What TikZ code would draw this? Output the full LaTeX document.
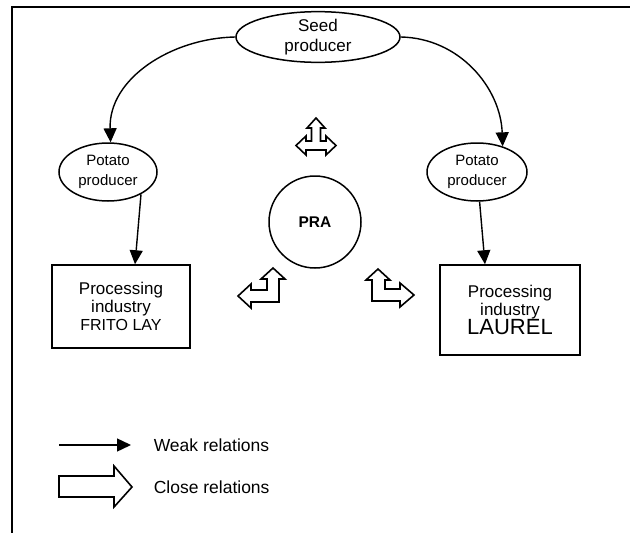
\documentclass[tikz,border=0pt]{standalone}
\usepackage{fontspec}
\setmainfont{Liberation Sans}
\usetikzlibrary{shapes.geometric,arrows.meta}
\begin{document}
\begin{tikzpicture}[x=1pt,y=-1pt,line width=1.5pt,
  ell/.style={draw,ellipse,inner sep=0pt,align=center,font=\fontsize{15}{20}\selectfont},
  procbox/.style={draw,rectangle,inner sep=0pt,align=center,font=\fontsize{17}{18}\selectfont},
  warrow/.style={-{Triangle[length=14pt,width=13pt]},line width=1.4pt},
  blockarrow/.style={draw,fill=white,line width=1.6pt,line join=miter},
  legtext/.style={anchor=base west,inner sep=0pt,font=\fontsize{17.5}{20}\selectfont}]
\useasboundingbox (0,0) rectangle (630,533);
% frame
\draw[line width=2pt] (12,545) -- (12,7) -- (645,7);
% nodes
\node[ell,minimum width=164pt,minimum height=50pt,font=\fontsize{17}{20}\selectfont] (seed) at (318,37) {Seed\\producer};
\node[ell,minimum width=98pt,minimum height=58pt] (potL) at (108,172) {Potato\\producer};
\node[ell,minimum width=100pt,minimum height=58pt] (potR) at (477,172) {Potato\\producer};
\node[draw,circle,minimum size=92pt,inner sep=0pt,font=\fontsize{15.5}{18}\selectfont\bfseries] (pra) at (315,222) {PRA};
\node[procbox,minimum width=138pt,minimum height=83pt] (boxL) at (121,306.5) {Processing\\industry\\{\fontsize{16}{18}\selectfont FRITO LAY}};
\node[procbox,minimum width=140pt,minimum height=90pt] (boxR) at (510,310) {Processing\\industry\\{\fontsize{22}{24}\selectfont LAUREL}};
% weak relations
\draw[warrow] (seed.west) to[out=181,in=92] (potL.85);
\draw[warrow] (seed.east) to[out=-1,in=92] (potR.45);
\draw[warrow] (potL.-34) -- ([xshift=14pt]boxL.north);
\draw[warrow] (potR.-85) -- ([xshift=-25pt]boxR.north);
% close relations (block arrows)
\draw[blockarrow] (316,118) -- (325,128) -- (320.5,128) -- (320.5,141) -- (326,141) -- (326,136) -- (336,145.5) -- (326,155) -- (326,150) -- (306,150) -- (306,155) -- (296,145.5) -- (306,136) -- (306,141) -- (311.5,141) -- (311.5,128) -- (307,128) -- cycle;
\draw[blockarrow] (273,268) -- (285,279) -- (279,279) -- (279,302) -- (251,302) -- (251,308) -- (238,296) -- (251,284) -- (251,290) -- (267,290) -- (267,279) -- (261,279) -- cycle;
\draw[blockarrow] (378,269) -- (390,280) -- (385,280) -- (385,289) -- (400,289) -- (400,283) -- (414,295) -- (400,307) -- (400,301) -- (372,301) -- (372,280) -- (366,280) -- cycle;
% legend
\coordinate (wk1) at (59,445);
\coordinate (wk2) at (131,445);
\draw[warrow] (wk1) -- (wk2);
\node[legtext] (wtext) at (153,451) {Weak relations};
\draw[blockarrow] (59,476) -- (114,476) -- (114,466) -- (132,487) -- (114,507) -- (114,497) -- (59,497) -- cycle;
\node[legtext] (ctext) at (153,493) {Close relations};
\end{tikzpicture}
\end{document}
